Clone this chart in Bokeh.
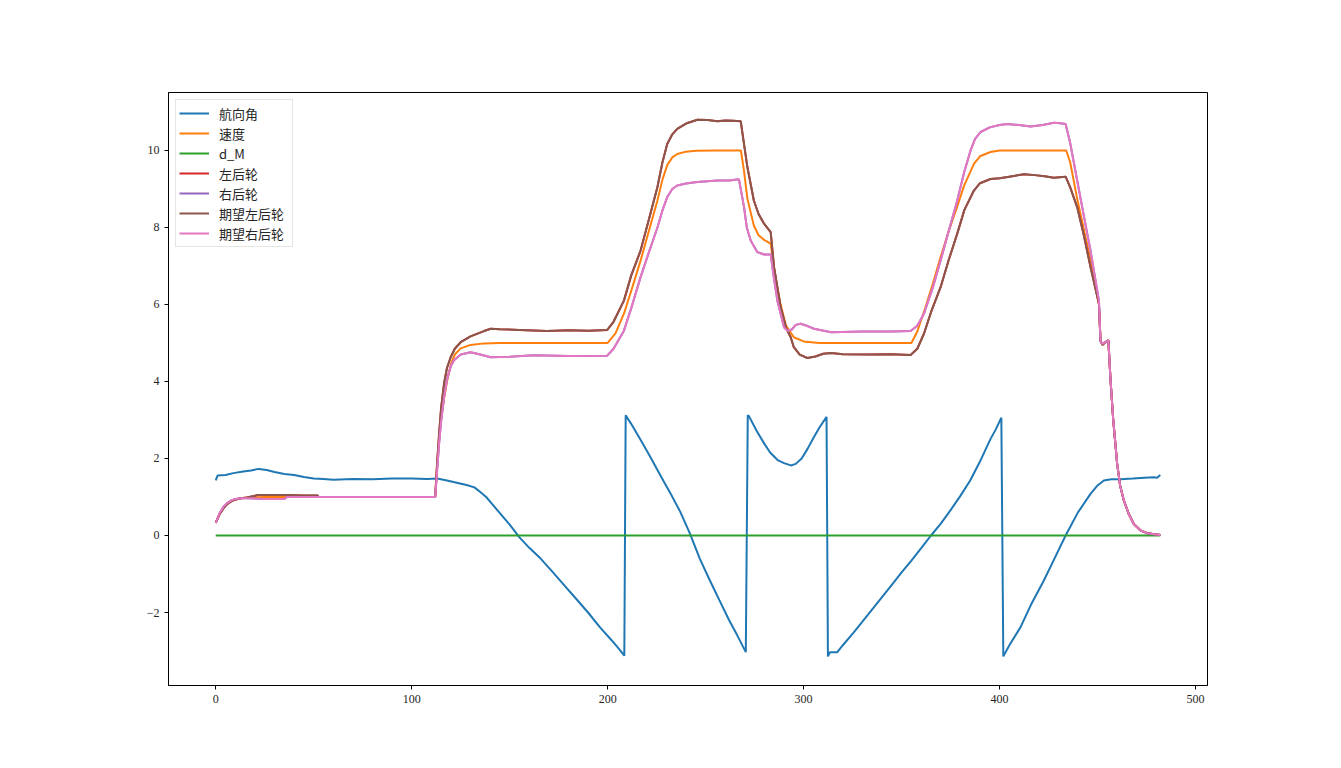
from bokeh.plotting import figure
from bokeh.models import Range1d, FixedTicker, Legend, LegendItem
from bokeh.embed import file_html
from bokeh.resources import INLINE

# ---------------- data ----------------
heading_x = [0, 1, 5, 9, 14, 18, 22, 26, 30, 35, 40, 45, 50, 55, 60, 70, 80, 90, 100, 108,
             113, 118, 123, 128, 132, 135, 138, 141, 145, 150, 155, 160, 165.8, 172, 178, 184,
             190, 196, 202, 206, 208.5, 209.2, 212, 217, 222, 227, 232, 237, 242, 247, 252,
             257, 262, 266, 270.5, 271.5, 272.1, 276, 280, 283, 287, 290, 293.5, 296, 299,
             302, 305, 308, 311.7, 312.4, 313.5, 317.2, 320, 325.7, 330, 335, 340, 345, 350,
             355, 360, 365, 370, 375, 380, 385, 390, 393, 395.4, 398, 400.9, 401.9, 405,
             410.7, 416, 422.6, 428, 433.7, 440, 446.4, 450, 453.2, 457, 461.7, 468, 474,
             478.7, 480.4, 482]
heading_y = [1.43, 1.56, 1.57, 1.62, 1.66, 1.69, 1.73, 1.70, 1.65, 1.60, 1.57, 1.52, 1.48,
             1.47, 1.45, 1.47, 1.46, 1.48, 1.48, 1.47, 1.48, 1.43, 1.37, 1.31, 1.25, 1.13,
             1.00, 0.82, 0.58, 0.28, -0.05, -0.32, -0.60, -0.95, -1.30, -1.65, -2.00, -2.38,
             -2.72, -2.96, -3.12, 3.12, 2.90, 2.47, 2.02, 1.55, 1.10, 0.62, 0.05, -0.60,
             -1.15, -1.68, -2.20, -2.58, -3.03, 3.12, 3.10, 2.72, 2.38, 2.15, 1.95, 1.88,
             1.82, 1.86, 2.00, 2.25, 2.53, 2.80, 3.08, -3.14, -3.03, -3.03, -2.85, -2.51,
             -2.24, -1.92, -1.60, -1.28, -0.96, -0.65, -0.33, 0.00, 0.31, 0.66, 1.03, 1.43,
             1.92, 2.25, 2.51, 2.75, 3.06, -3.14, -2.85, -2.38, -1.80, -1.17, -0.60, 0.00,
             0.60, 1.08, 1.30, 1.43, 1.46, 1.46, 1.48, 1.50, 1.51, 1.50, 1.57]

speed_x = [0, 2, 4, 6, 8, 10, 13, 16, 20, 25, 112, 113, 114, 115, 116.5, 118, 120, 122, 125,
           130, 137, 145, 200, 204, 208.3, 212, 216.8, 221, 225.4, 228, 230.4, 233, 235.5,
           240, 245, 255, 268, 269.5, 271.3, 274.6, 277, 279.8, 283.2, 285, 288, 291, 295,
           300, 308, 355, 358, 362, 366, 369.9, 374, 378.4, 382, 386.9, 390, 395.4, 400,
           434, 436, 439.6, 443, 446.4, 450.7, 451.5, 452.5, 455.5, 456.6, 458, 460, 461.5,
           463.4, 466, 468.5, 472, 475.3, 479, 482]
speed_y = [0.33, 0.57, 0.73, 0.83, 0.90, 0.94, 0.97, 0.985, 0.995, 1.0, 1.0, 1.8, 2.5, 3.05,
           3.55, 4.0, 4.45, 4.70, 4.86, 4.95, 4.99, 5.0, 5.0, 5.25, 5.76, 6.35, 7.14, 7.9,
           8.7, 9.25, 9.62, 9.82, 9.91, 9.97, 9.99, 10.0, 10.0, 9.5, 8.75, 8.05, 7.8, 7.68,
           7.58, 6.9, 6.05, 5.45, 5.15, 5.04, 5.0, 5.0, 5.3, 5.9, 6.55, 7.23, 7.9, 8.55, 9.1,
           9.65, 9.85, 9.96, 10.0, 10.0, 9.7, 8.75, 7.95, 7.15, 6.0, 5.05, 4.98, 5.07, 4.05,
           3.0, 1.86, 1.3, 0.91, 0.55, 0.30, 0.13, 0.06, 0.03, 0.01]

dm_x = [0, 100, 200, 300, 400, 482]
dm_y = [0, 0, 0, 0, 0, 0]

desired_left_x = [0, 2, 4, 6, 8, 10, 13, 16, 20, 21, 35, 45, 52, 52.5, 112, 113, 114, 115,
                  116.5, 118, 119.9, 122, 125, 130, 136.9, 140.3, 145, 155, 169, 180, 190,
                  199.8, 203, 208.3, 212, 216.8, 221, 225.4, 228, 230.4, 233, 235.5, 240,
                  245.8, 251, 256, 260, 264, 267.9, 269.5, 271.3, 274.6, 277, 279.8, 283.2,
                  284.9, 288.3, 291, 293.4, 295, 298, 301.9, 306, 310, 314, 320, 334, 345,
                  354.6, 358, 361.4, 365, 369.9, 374, 378.4, 382, 386.9, 390, 395.4, 400,
                  405, 412.4, 418, 423, 427.7, 433.7, 436, 439.6, 443, 446.4, 450.7, 451.5,
                  452.5, 454, 455.5, 456.6, 458, 460, 461.5, 463.4, 466, 468.5, 472, 475.3,
                  479, 482]
desired_left_y = [0.33, 0.55, 0.71, 0.82, 0.89, 0.93, 0.97, 0.99, 1.03, 1.05, 1.05, 1.04,
                  1.04, 1.0, 1.0, 1.9, 2.65, 3.3, 3.94, 4.35, 4.63, 4.85, 5.02, 5.17, 5.31,
                  5.37, 5.36, 5.34, 5.31, 5.33, 5.32, 5.34, 5.55, 6.10, 6.75, 7.4, 8.2, 9.05,
                  9.7, 10.17, 10.42, 10.56, 10.7, 10.8, 10.79, 10.76, 10.78, 10.77, 10.76,
                  10.2, 9.57, 8.7, 8.35, 8.1, 7.88, 6.97, 5.93, 5.4, 5.15, 4.89, 4.70, 4.61,
                  4.65, 4.72, 4.74, 4.71, 4.70, 4.71, 4.69, 4.85, 5.24, 5.8, 6.45, 7.15, 7.84,
                  8.45, 8.96, 9.15, 9.26, 9.28, 9.32, 9.38, 9.36, 9.33, 9.29, 9.32, 9.05, 8.53,
                  7.8, 6.97, 6.02, 5.05, 4.95, 5.02, 5.07, 4.05, 3.0, 1.86, 1.3, 0.91, 0.55,
                  0.30, 0.13, 0.06, 0.03, 0.01]

desired_right_x = [0, 2, 4, 6, 8, 10, 13, 16, 20, 25, 35, 36.5, 112, 113, 114, 115, 116.5,
                   118, 120, 121.6, 125, 130.1, 135, 140.3, 150, 162.4, 180, 199.8, 203,
                   208.3, 212, 216.8, 221, 225.4, 228, 230.4, 233, 235.5, 240, 245.8, 256,
                   262, 267, 269.6, 271, 273, 276.4, 279.8, 283.2, 284.5, 286.6, 290, 291.7,
                   294, 296, 298.5, 302, 305.3, 314, 330, 345, 354.6, 358, 361.4, 366, 369.9,
                   374, 378.4, 382, 385.2, 387.5, 390.3, 395, 400, 403.9, 410, 415.8, 422,
                   427.7, 431, 433.7, 436, 439.6, 443, 446.4, 450.7, 451.5, 452.5, 454, 455.5,
                   456.6, 458, 460, 461.5, 463.4, 466, 468.5, 472, 475.3, 479, 482]
desired_right_y = [0.33, 0.58, 0.75, 0.85, 0.91, 0.95, 0.97, 0.97, 0.96, 0.95, 0.95, 1.0,
                   1.0, 1.7, 2.4, 2.95, 3.59, 4.05, 4.4, 4.55, 4.70, 4.76, 4.70, 4.63, 4.64,
                   4.68, 4.66, 4.67, 4.85, 5.32, 5.9, 6.71, 7.35, 8.0, 8.45, 8.79, 9.0, 9.09,
                   9.14, 9.18, 9.22, 9.22, 9.25, 8.53, 8.0, 7.66, 7.36, 7.3, 7.3, 6.8, 6.1,
                   5.41, 5.32, 5.35, 5.47, 5.50, 5.44, 5.37, 5.28, 5.30, 5.30, 5.31, 5.45,
                   5.76, 6.45, 7.14, 7.9, 8.70, 9.45, 10.0, 10.3, 10.48, 10.6, 10.66, 10.69,
                   10.66, 10.62, 10.66, 10.72, 10.71, 10.69, 10.2, 9.22, 8.3, 7.40, 6.1, 5.05,
                   4.98, 5.02, 5.07, 4.05, 3.0, 1.86, 1.3, 0.91, 0.55, 0.30, 0.13, 0.06, 0.03,
                   0.01]

# measured wheels coincide with the desired ones at this scale
left_wheel_x = desired_left_x
left_wheel_y = desired_left_y
right_wheel_x = desired_right_x
right_wheel_y = desired_right_y

labels = ["航向角", "速度", "d_M", "左后轮", "右后轮", "期望左后轮", "期望右后轮"]
colors = ["#1f77b4", "#ff7f0e", "#2ca02c", "#d62728", "#9467bd", "#8c564b", "#e377c2"]
x_ticks = [0, 100, 200, 300, 400, 500]
y_ticks = [-2, 0, 2, 4, 6, 8, 10]

# ---------------- figure ----------------
p = figure(width=1341, height=768, output_backend="svg", toolbar_location=None,
           x_range=Range1d(-24.1, 506.1), y_range=Range1d(-3.896, 11.506))
p.min_border_left = 168
p.min_border_right = 134
p.min_border_top = 92
p.min_border_bottom = 83
p.background_fill_color = "white"
p.border_fill_color = "white"
p.outline_line_color = "black"
p.outline_line_width = 1
p.xgrid.visible = False
p.ygrid.visible = False

series = [(heading_x, heading_y), (speed_x, speed_y), (dm_x, dm_y),
          (left_wheel_x, left_wheel_y), (right_wheel_x, right_wheel_y),
          (desired_left_x, desired_left_y), (desired_right_x, desired_right_y)]
items = []
for (xs, ys), lab, col in zip(series, labels, colors):
    r = p.line(xs, ys, line_color=col, line_width=2)
    items.append(LegendItem(label=lab, renderers=[r]))

for ax, ticks in ((p.xaxis[0], x_ticks), (p.yaxis[0], y_ticks)):
    ax.ticker = FixedTicker(ticks=ticks)
    ax.minor_tick_line_color = None
    ax.major_tick_in = 0
    ax.major_tick_out = 4
    ax.major_tick_line_color = "black"
    ax.axis_line_color = "black"
    ax.major_label_text_font = "Liberation Serif"
    ax.major_label_text_font_size = "12px"
    ax.major_label_text_color = "#262626"
    ax.major_label_standoff = 5

legend = Legend(items=items, location="top_left")
legend.label_text_font = "Noto Sans CJK SC"
legend.label_text_font_size = "13px"
legend.label_text_color = "#262626"
legend.glyph_width = 30
legend.glyph_height = 20
legend.label_height = 20
legend.label_width = 70
legend.spacing = 0
legend.padding = 3
legend.margin = 7
legend.label_standoff = 10
legend.border_line_color = "#cccccc"
legend.border_line_width = 1
legend.background_fill_alpha = 0.8
p.add_layout(legend, "center")

open("out.html", "w").write(file_html(p, INLINE))
